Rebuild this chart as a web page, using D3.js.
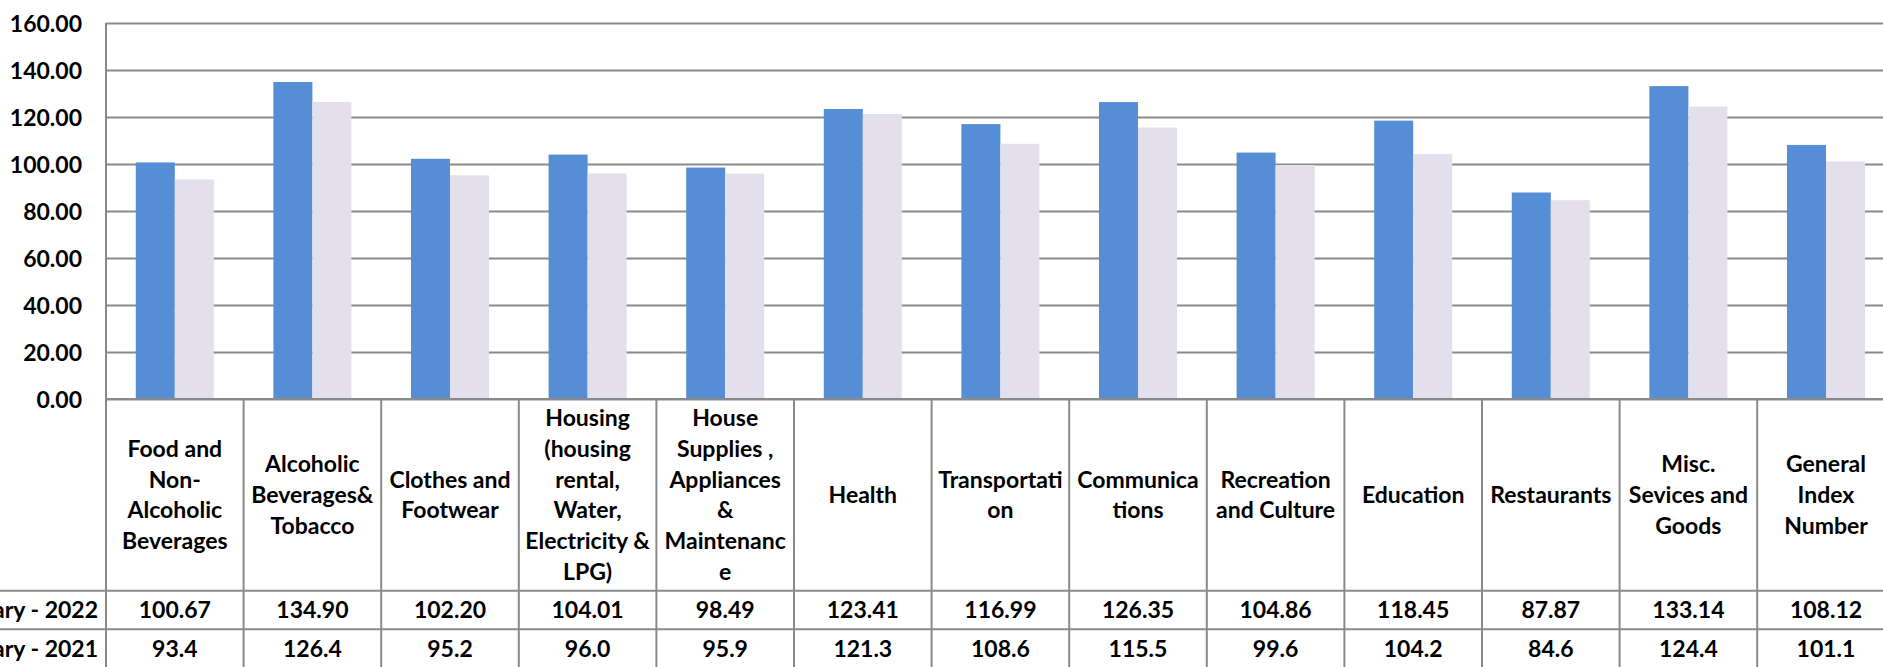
<!DOCTYPE html>
<html>
<head>
<meta charset="utf-8">
<script src="https://cdn.jsdelivr.net/npm/d3@7"></script>
<style>
  html, body { margin: 0; padding: 0; background: #fff; overflow: hidden; }
  svg { display: block; }
  text { font-family: "Lato", "Open Sans", sans-serif; font-weight: 700; fill: #000; }
</style>
</head>
<body>
<svg id="chart" width="1883" height="667"></svg>
<script>
// ---- data ----
const categories = [
  "Food and|Non-|Alcoholic|Beverages",
  "Alcoholic|Beverages&|Tobacco",
  "Clothes and|Footwear",
  "Housing|(housing|rental,|Water,|Electricity &|LPG)",
  "House|Supplies ,|Appliances|&|Maintenanc|e",
  "Health",
  "Transportati|on",
  "Communica|tions",
  "Recreation|and Culture",
  "Education",
  "Restaurants",
  "Misc.|Sevices and|Goods",
  "General|Index|Number"
];
const seriesNames = ["January - 2022", "January - 2021"];
const values2022 = [100.67, 134.90, 102.20, 104.01, 98.49, 123.41, 116.99, 126.35, 104.86, 118.45, 87.87, 133.14, 108.12];
const values2021 = [93.4, 126.4, 95.2, 96.0, 95.9, 121.3, 108.6, 115.5, 99.6, 104.2, 84.6, 124.4, 101.1];
const yTicks = [0, 20, 40, 60, 80, 100, 120, 140, 160];

// ---- layout ----
const FONT_SIZE = 23;
const plotLeft = 106, plotTop = 23, zeroY = 399;
const catW = 137.6;
const headerBottom = 590.7, row1Bottom = 629.3, row2Bottom = 668;
const lineH = 30.7;
const gridColor = "#8a8a8a";
const colors = ["#558ED5", "#E4DFEC"];

const svg = d3.select("#chart");

const x0 = d3.scaleBand().domain(categories)
  .range([plotLeft, plotLeft + catW * categories.length]).padding(0);
const x1 = d3.scaleBand().domain(seriesNames)
  .range([0, x0.bandwidth()]).paddingInner(0).paddingOuter(0.764);
const y = d3.scaleLinear().domain([0, 160]).range([zeroY, plotTop]);

// gridlines
const yAxis = d3.axisLeft(y).tickValues(yTicks).tickFormat(d3.format(".2f"))
  .tickSize(-(1883 - plotLeft)).tickPadding(24);
const gAxis = svg.append("g").attr("transform", `translate(${plotLeft},0)`).call(yAxis);
gAxis.select(".domain").remove();
gAxis.selectAll(".tick line").attr("stroke", gridColor).attr("stroke-width", 2);
gAxis.selectAll(".tick text").attr("font-size", FONT_SIZE).attr("fill", "#000")
  .attr("font-family", null).attr("dy", "0.35em");

// bars
const series = [values2022, values2021];
const gBars = svg.append("g");
categories.forEach((c, i) => {
  seriesNames.forEach((s, j) => {
    const v = series[j][i];
    gBars.append("rect")
      .attr("x", x0(c) + x1(s))
      .attr("y", y(v))
      .attr("width", x1.bandwidth())
      .attr("height", y(0) - y(v))
      .attr("fill", colors[j]);
  });
});

// table lines
const gT = svg.append("g").attr("stroke", gridColor).attr("stroke-width", 2);
gT.append("line").attr("x1", plotLeft).attr("x2", plotLeft).attr("y1", y(160)).attr("y2", 667);
gT.append("line").attr("x1", plotLeft).attr("x2", 1883).attr("y1", y(0)).attr("y2", y(0));
gT.append("line").attr("x1", 0).attr("x2", 1883).attr("y1", headerBottom).attr("y2", headerBottom);
gT.append("line").attr("x1", 0).attr("x2", 1883).attr("y1", row1Bottom).attr("y2", row1Bottom);
categories.forEach(c => {
  const xr = x0(c) + x0.bandwidth();
  gT.append("line").attr("x1", xr).attr("x2", xr).attr("y1", y(0)).attr("y2", 667);
});

// header labels
const headerMid = (y(0) + headerBottom) / 2;
categories.forEach(c => {
  const lines = c.split("|");
  const cx = x0(c) + x0.bandwidth() / 2;
  const t = svg.append("text").attr("text-anchor", "middle").attr("font-size", FONT_SIZE);
  lines.forEach((ln, k) => {
    t.append("tspan").attr("x", cx)
      .attr("y", headerMid + (k - (lines.length - 1) / 2) * lineH)
      .attr("dy", "0.35em").text(ln);
  });
});

// data rows
const fmts = [d3.format(".2f"), d3.format(".1f")];
const rowMids = [(headerBottom + row1Bottom) / 2, (row1Bottom + row2Bottom) / 2];
seriesNames.forEach((s, j) => {
  svg.append("text").attr("x", 98).attr("y", rowMids[j]).attr("dy", "0.35em")
    .attr("text-anchor", "end").attr("font-size", FONT_SIZE).text(s);
  categories.forEach((c, i) => {
    svg.append("text").attr("x", x0(c) + x0.bandwidth() / 2).attr("y", rowMids[j])
      .attr("dy", "0.35em").attr("text-anchor", "middle").attr("font-size", FONT_SIZE)
      .text(fmts[j](series[j][i]));
  });
});
</script>
</body>
</html>
